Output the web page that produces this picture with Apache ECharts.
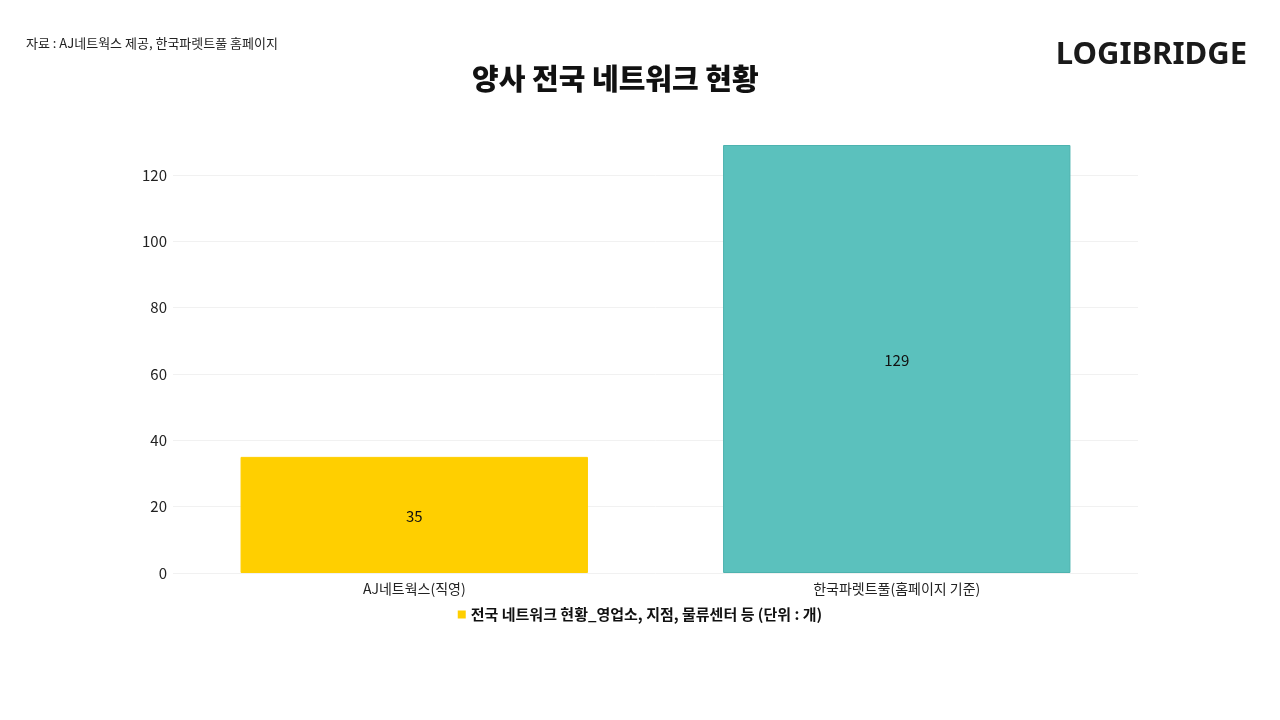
<!DOCTYPE html>
<html><head><meta charset="utf-8">
<script src="https://cdn.jsdelivr.net/npm/echarts@6/dist/echarts.min.js"></script>
<style>html,body{margin:0;padding:0;background:#fff}#c{width:1280px;height:720px}</style>
</head><body><div id="c"></div>
<script>
const categories = ['AJ네트웍스(직영)', '한국파렛트풀(홈페이지 기준)'];
const values = [35, 129];
const barColors = ['#FFCF00', '#5BC1BD'];
const seriesName = '전국 네트워크 현황_영업소, 지점, 물류센터 등 (단위 : 개)';
const yTicks = [0, 20, 40, 60, 80, 100, 120];

const chart = echarts.init(document.getElementById('c'));
const font = '"Noto Sans CJK KR", "Noto Sans", sans-serif';
chart.setOption({
  backgroundColor: '#fff',
  animation: false,
  textStyle: { fontFamily: font },
  title: [
    { text: '양사 전국 네트워크 현황', left: 467, top: 59,
      textStyle: { fontSize: 29, fontWeight: 900, color: '#111', fontFamily: font } },
    { text: '자료 : AJ네트웍스 제공, 한국파렛트풀 홈페이지', left: 21, top: 32,
      textStyle: { fontSize: 13, fontWeight: 'normal', color: '#222', fontFamily: font } },
    { text: 'LOGIBRIDGE', right: 28, top: 35,
      textStyle: { fontSize: 31, fontWeight: 'bold', color: '#1a1a1a', fontFamily: '"Noto Sans", sans-serif' } }
  ],
  legend: {
    data: [seriesName], bottom: 93, left: 'center',
    itemWidth: 8, itemHeight: 8, icon: 'rect', itemGap: 6,
    textStyle: { fontSize: 15, fontWeight: 'bold', color: '#111', fontFamily: font }
  },
  grid: { left: 173, right: 142, top: 145, bottom: 147, containLabel: false },
  xAxis: {
    type: 'category', data: categories,
    axisLine: { show: false }, axisTick: { show: false },
    axisLabel: { fontSize: 14, color: '#222', margin: 9 }
  },
  yAxis: {
    type: 'value', min: 0, max: 129, interval: 20,
    axisLabel: { fontSize: 15, color: '#222', margin: 6, showMaxLabel: false,
      formatter: v => yTicks.includes(v) ? String(v) : '' },
    axisLine: { show: false }, axisTick: { show: false },
    splitLine: { lineStyle: { color: ['#f1f1f1','#f1f1f1','#f1f1f1','#f1f1f1','#f1f1f1','#f1f1f1','#f1f1f1','rgba(0,0,0,0)'], width: 1 } }
  },
  series: [{
    name: seriesName, type: 'bar', barWidth: '72%',
    itemStyle: { color: barColors[0] },
    data: values.map((v, i) => ({ value: v, itemStyle: { color: barColors[i], borderColor: i === 1 ? '#4DB3AF' : barColors[i], borderWidth: 1 } })),
    label: { show: true, position: 'inside', fontSize: 15, color: '#111', offset: [0, 1] }
  }]
});
</script></body></html>
